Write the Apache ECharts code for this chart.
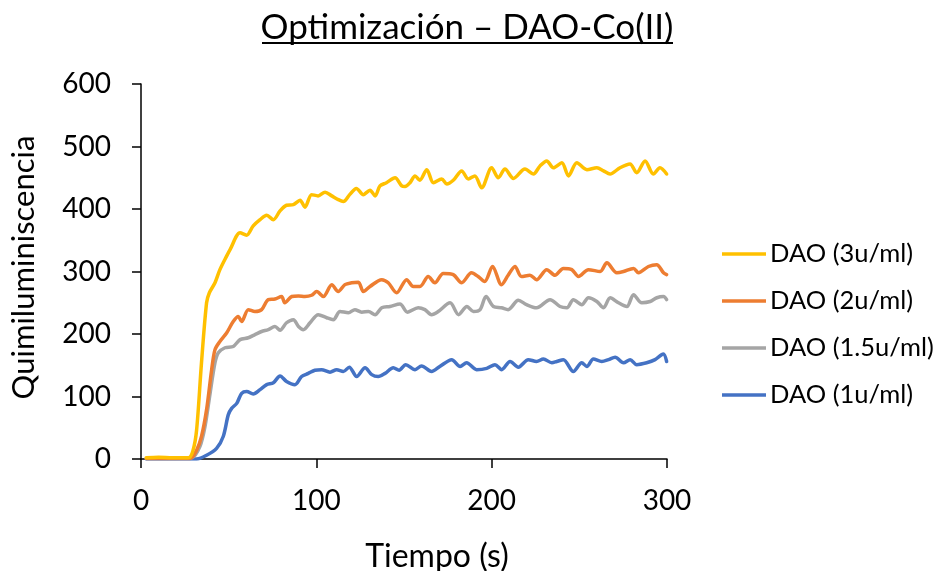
<!DOCTYPE html>
<html>
<head>
<meta charset="utf-8">
<script src="https://cdn.jsdelivr.net/npm/echarts@6/dist/echarts.min.js"></script>
<style>
html,body{margin:0;padding:0;background:#fff;}
#chart{width:933px;height:571px;}
</style>
</head>
<body>
<div id="chart"></div>
<script>
// ---- Data ----
const titleText = 'Optimización – DAO-Co(II)';
const xAxisName = 'Tiempo (s)';
const yAxisName = 'Quimiluminiscencia';
const seriesNames = ['DAO (3u/ml)', 'DAO (2u/ml)', 'DAO (1.5u/ml)', 'DAO (1u/ml)'];

const t3 = [3, 10, 18, 27, 29.5, 31.7, 34.5, 37.4, 39, 42.2, 45, 48.9, 50.8, 56.5, 60.2, 64, 67.9, 71.7, 75.5, 79.3, 83, 86.9, 90.7, 93.5, 97.3, 101, 105, 108.8, 112.5, 115.4, 119, 122.8, 126.8, 130.6, 133.5, 136.3, 140, 144.9, 148.7, 150.6, 153.4, 156.3, 159, 163, 166.8, 171.5, 174.4, 178.1, 182.9, 186.7, 190.4, 194.3, 200, 203.8, 207.6, 212.4, 219, 223.8, 227.6, 231.4, 235.2, 240, 243.8, 248.6, 254.3, 260, 263.8, 267.5, 273.2, 278.9, 282.7, 287.5, 292.2, 296, 299.8];
const v3 = [2, 3, 2, 2, 12, 46, 154, 250, 266, 282, 303, 325, 335, 362, 358, 373, 383, 390, 383, 397, 406, 407, 414, 403, 423, 421, 427, 421, 415, 412, 423, 433, 423, 430, 421, 437, 442, 450, 437, 436, 442, 453, 446, 463, 442, 448, 440, 446, 461, 448, 453, 434, 466, 450, 464, 449, 464, 456, 469, 477, 466, 474, 453, 474, 463, 466, 461, 456, 466, 472, 458, 477, 456, 466, 456];

const t2 = [3, 15, 28, 31.7, 34.5, 37.4, 40.3, 42.2, 45, 48.9, 52.6, 55.5, 57.4, 61.2, 65, 68.8, 72.6, 76.4, 80.2, 82, 86, 89.8, 93.5, 97.3, 100.2, 104, 108.8, 112.5, 116.3, 120.1, 124, 126.8, 130.6, 137.3, 141, 145.8, 151.5, 155.3, 159.1, 163.8, 167.6, 172.4, 178.1, 182.9, 188.5, 192.3, 196, 200.5, 205.6, 209.4, 213.3, 217, 221.8, 225.6, 231.4, 236.1, 240.9, 245.7, 249.5, 255.2, 261.9, 265.7, 271.4, 275.2, 280.9, 283.7, 289.4, 294.1, 298, 299.8];
const v2 = [1, 1, 1, 14, 36, 79, 143, 175, 188, 202, 220, 228, 220, 239, 236, 239, 255, 256, 260, 250, 260, 261, 260, 262, 268, 260, 279, 268, 279, 282, 283, 268, 276, 287, 282, 266, 287, 276, 276, 292, 282, 297, 295, 282, 298, 292, 284, 308, 279, 294, 308, 292, 294, 287, 303, 294, 305, 303, 292, 303, 300, 314, 298, 300, 305, 298, 308, 311, 298, 295];

const t15 = [3, 15, 29, 33.6, 36.5, 39.4, 42.2, 44.1, 47.9, 52.6, 56.5, 61.2, 65, 68.8, 72.6, 76.4, 79.3, 83, 86.9, 89.8, 92.6, 96.4, 101.1, 105.9, 109.7, 113.5, 118.3, 122, 125.9, 129.7, 133.5, 137.3, 142, 147.7, 152, 158.1, 161.9, 165.7, 169.5, 176.3, 181.1, 185.9, 189.6, 193.4, 196.8, 201, 205.6, 209.4, 215.2, 219.9, 225.6, 233.3, 239, 242.9, 246.6, 251.4, 255.2, 260, 263.8, 267.6, 272.3, 277.1, 280.9, 285.6, 290.4, 294.2, 298, 299.8];
const v15 = [1, 1, 2, 20, 52, 105, 154, 170, 178, 180, 191, 194, 199, 204, 207, 212, 206, 218, 223, 212, 207, 218, 231, 226, 223, 236, 234, 239, 235, 236, 231, 242, 244, 248, 235, 242, 239, 231, 236, 250, 231, 244, 236, 239, 260, 244, 242, 239, 254, 247, 242, 255, 244, 242, 255, 247, 258, 252, 242, 258, 250, 244, 263, 250, 252, 258, 260, 255];

const t1 = [3, 15, 31.7, 37.4, 43.1, 46.9, 49.8, 51.7, 54.6, 57.4, 60.3, 64, 67.9, 71.7, 75.5, 79.3, 83, 87.8, 91.6, 95.4, 99.2, 103, 107.8, 111.6, 115.4, 118.8, 123, 127.8, 131.6, 135.3, 139.2, 143.9, 147.2, 151, 156.3, 160, 165.7, 170.4, 177.2, 182, 185.7, 191.4, 197.2, 201.9, 205.7, 210.5, 215.2, 220.9, 225.6, 229.5, 234.3, 237.1, 240.9, 246.6, 251.4, 254.3, 258, 262.8, 266.6, 270.4, 275.2, 279, 282.7, 288.4, 293.2, 297.9, 299.8];
const v1 = [0, 0, 0, 6, 17, 36, 71, 81, 89, 105, 108, 104, 111, 119, 122, 133, 124, 119, 132, 137, 142, 143, 139, 143, 140, 147, 132, 146, 135, 132, 137, 146, 142, 151, 143, 149, 140, 148, 159, 148, 154, 143, 145, 151, 143, 156, 147, 159, 156, 160, 154, 156, 159, 140, 154, 148, 160, 156, 159, 163, 154, 159, 151, 154, 159, 168, 156];

const xTicks = { min: 0, max: 300, interval: 100 };
const yTicks = { min: 0, max: 600, interval: 100 };

const colors = ['#FFC000', '#ED7D31', '#A5A5A5', '#4472C4'];

function pairs(t, v) { return t.map((x, i) => [x, v[i]]); }
const seriesData = [pairs(t3, v3), pairs(t2, v2), pairs(t15, v15), pairs(t1, v1)];

const FONT = 'Lato, "Open Sans", sans-serif';
const chart = echarts.init(document.getElementById('chart'), null, { renderer: 'canvas' });

const option = {
  animation: false,
  backgroundColor: '#ffffff',
  color: colors,
  grid: { left: 141, right: 266, top: 84, bottom: 112, containLabel: false, outerBoundsMode: 'none' },
  graphic: [
    {
      type: 'text', x: 467, y: 28,
      style: { text: titleText, font: '35px ' + FONT, fill: '#000', align: 'center', verticalAlign: 'middle' }
    },
    {
      type: 'line',
      shape: { x1: 262, y1: 43, x2: 673, y2: 43 },
      style: { stroke: '#000', lineWidth: 2 }
    }
  ],
  legend: {
    orient: 'vertical',
    left: 722, top: 241, padding: 0,
    icon: 'rect',
    itemWidth: 44, itemHeight: 3.5, itemGap: 21,
    data: seriesNames,
    textStyle: { fontFamily: FONT, fontSize: 25.5, color: '#000', padding: [0, 0, 0, -1] }
  },
  xAxis: {
    type: 'value', min: xTicks.min, max: xTicks.max, interval: xTicks.interval,
    name: xAxisName, nameLocation: 'middle', nameGap: 82,
    nameTextStyle: { fontFamily: FONT, fontSize: 32, color: '#000', padding: [0, 0, 0, 66] },
    axisLine: { lineStyle: { color: '#000', width: 1.5 } },
    axisTick: { show: true, inside: false, length: 9, lineStyle: { color: '#000', width: 1.5 } },
    axisLabel: { margin: 28, fontFamily: FONT, fontSize: 28, color: '#000' },
    splitLine: { show: false }
  },
  yAxis: {
    type: 'value', min: yTicks.min, max: yTicks.max, interval: yTicks.interval,
    name: yAxisName, nameLocation: 'middle', nameGap: 102, nameRotate: 90,
    nameTextStyle: { fontFamily: FONT, fontSize: 31, color: '#000', padding: [0, 0, 0, 8] },
    axisLine: { show: true, lineStyle: { color: '#000', width: 1.5 } },
    axisTick: { show: true, inside: false, length: 9, lineStyle: { color: '#000', width: 1.5 } },
    axisLabel: { margin: 30, fontFamily: FONT, fontSize: 28, color: '#000' },
    splitLine: { show: false }
  },
  series: seriesNames.map((name, i) => ({
    name: name,
    type: 'line',
    data: seriesData[i],
    symbol: 'none',
    smooth: 0.3,
    lineStyle: { width: 3.5, color: colors[i], cap: 'round', join: 'round' },
    itemStyle: { color: colors[i] },
    z: 10 - i
  }))
};
chart.setOption(option);
</script>
</body>
</html>
